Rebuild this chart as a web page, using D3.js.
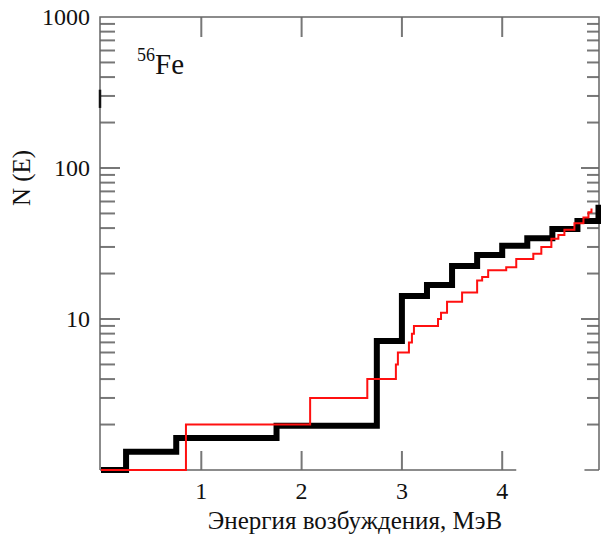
<!DOCTYPE html>
<meta charset="UTF-8">
<style>
    body { margin: 0; background: #fff; }
    text { font-family: "Liberation Serif", "Times New Roman", serif; fill: #111; }
    .frame { stroke: #666; stroke-width: 1.5; fill: none; }
    .tick { stroke: #777; stroke-width: 2; }
</style>
<body>
<div id="chart"></div>
<script src="https://d3js.org/d3.v7.min.js"></script>
<script>
// experimental level scheme: energy where the count steps up, and count after it
var expE = [0, 0.847, 2.085, 2.655, 2.94, 2.96, 3.07, 3.10, 3.12, 3.36, 3.39, 3.45, 3.60, 3.75, 3.80, 3.86, 4.04, 4.14, 4.31, 4.39, 4.49, 4.56, 4.62, 4.72, 4.81, 4.86, 4.89];
var expN = [1, 2, 3, 4, 5, 6, 7, 8, 9, 10, 11, 13, 15, 18, 19, 21, 22, 25, 27, 30, 34, 36, 39, 43, 47, 51, 54];

// model (binned) staircase
var modE = [0, 0.25, 0.75, 1.75, 2.75, 3.0, 3.25, 3.5, 3.75, 4.0, 4.25, 4.5, 4.75, 4.96];
var modN = [1, 1.32, 1.63, 1.96, 7.15, 14.2, 16.8, 22.4, 26.5, 30.6, 34.2, 39.4, 44.5, 57];

var xTicks = [1, 2, 3, 4];
var yMajor = [10, 100, 1000];

var width = 601, height = 537;
var pLeft = 100, pRight = 599, pTop = 17, pBottom = 470;

var x = d3.scaleLinear().domain([0, 4.965]).range([pLeft + 1, pRight]);
var y = d3.scaleLog().domain([1, 1000]).range([pBottom, pTop]);

var svg = d3.select("#chart").append("svg")
    .attr("width", width)
    .attr("height", height);

// minor ticks 2..9 in each decade
var minor = [];
[1, 10, 100].forEach(function(d) {
    for (var k = 2; k <= 9; k++) minor.push(d * k);
});

// left ticks (pointing in)
svg.append("g").selectAll("line").data(minor).join("line")
    .attr("class", "tick")
    .attr("x1", pLeft).attr("x2", pLeft + 15)
    .attr("y1", function(d) { return y(d); }).attr("y2", function(d) { return y(d); });
svg.append("g").selectAll("line").data([10, 100]).join("line")
    .attr("class", "tick")
    .attr("x1", pLeft).attr("x2", pLeft + 20)
    .attr("y1", function(d) { return y(d); }).attr("y2", function(d) { return y(d); });

// right ticks
svg.append("g").selectAll("line").data(minor).join("line")
    .attr("class", "tick")
    .attr("x1", pRight).attr("x2", pRight - 12)
    .attr("y1", function(d) { return y(d); }).attr("y2", function(d) { return y(d); });
svg.append("g").selectAll("line").data([10, 100]).join("line")
    .attr("class", "tick")
    .attr("x1", pRight).attr("x2", pRight - 18)
    .attr("y1", function(d) { return y(d); }).attr("y2", function(d) { return y(d); });

// x ticks bottom and top
svg.append("g").selectAll("line").data(xTicks).join("line")
    .attr("class", "tick")
    .attr("x1", function(d) { return x(d); }).attr("x2", function(d) { return x(d); })
    .attr("y1", pBottom).attr("y2", pBottom - 19);
svg.append("g").selectAll("line").data(xTicks).join("line")
    .attr("class", "tick")
    .attr("x1", function(d) { return x(d); }).attr("x2", function(d) { return x(d); })
    .attr("y1", pTop).attr("y2", pTop + 20);

// frame (bottom line has a break in the original)
svg.append("path").attr("class", "frame")
    .attr("d", "M" + pLeft + "," + pBottom + "V" + pTop + "H" + pRight + "V" + pBottom);
svg.append("line").attr("class", "frame")
    .attr("x1", pLeft).attr("x2", x(4.14)).attr("y1", pBottom).attr("y2", pBottom);
svg.append("line").attr("class", "frame")
    .attr("x1", x(4.82)).attr("x2", pRight).attr("y1", pBottom).attr("y2", pBottom);
// small dark mark on the left axis
svg.append("line")
    .attr("x1", pLeft).attr("x2", pLeft)
    .attr("y1", y(330)).attr("y2", y(250))
    .attr("stroke", "#111").attr("stroke-width", 2.5);

var step = d3.line()
    .x(function(d) { return x(d[0]); })
    .y(function(d) { return y(d[1]); })
    .curve(d3.curveStepAfter);

// model staircase (thick black)
svg.append("path")
    .datum(d3.zip(modE, modN))
    .attr("d", step)
    .attr("fill", "none")
    .attr("stroke", "#000")
    .attr("stroke-width", 6)
    .attr("stroke-linejoin", "miter");

// experimental staircase (thin red)
svg.append("path")
    .datum(d3.zip(expE, expN))
    .attr("d", step)
    .attr("fill", "none")
    .attr("stroke", "#ff1010")
    .attr("stroke-width", 2);

// y tick labels
svg.append("g").selectAll("text").data(yMajor).join("text")
    .attr("x", 90)
    .attr("y", function(d) { return y(d) + 8; })
    .attr("text-anchor", "end")
    .attr("font-size", 24)
    .text(function(d) { return d; });

// x tick labels
svg.append("g").selectAll("text").data(xTicks).join("text")
    .attr("x", function(d) { return x(d); })
    .attr("y", 499)
    .attr("text-anchor", "middle")
    .attr("font-size", 24)
    .text(function(d) { return d; });

// axis titles
svg.append("text")
    .attr("x", 355).attr("y", 529)
    .attr("text-anchor", "middle")
    .attr("font-size", 25)
    .text("Энергия возбуждения, МэВ");

svg.append("text")
    .attr("transform", "translate(30,178) rotate(-90)")
    .attr("text-anchor", "middle")
    .attr("font-size", 25)
    .text("N (E)");

// nucleus label
var lab = svg.append("text").attr("x", 137).attr("y", 74).attr("font-size", 29);
lab.append("tspan").attr("font-size", 18).attr("dy", -13).text("56");
lab.append("tspan").attr("dy", 13).text("Fe");
</script>
</body>
